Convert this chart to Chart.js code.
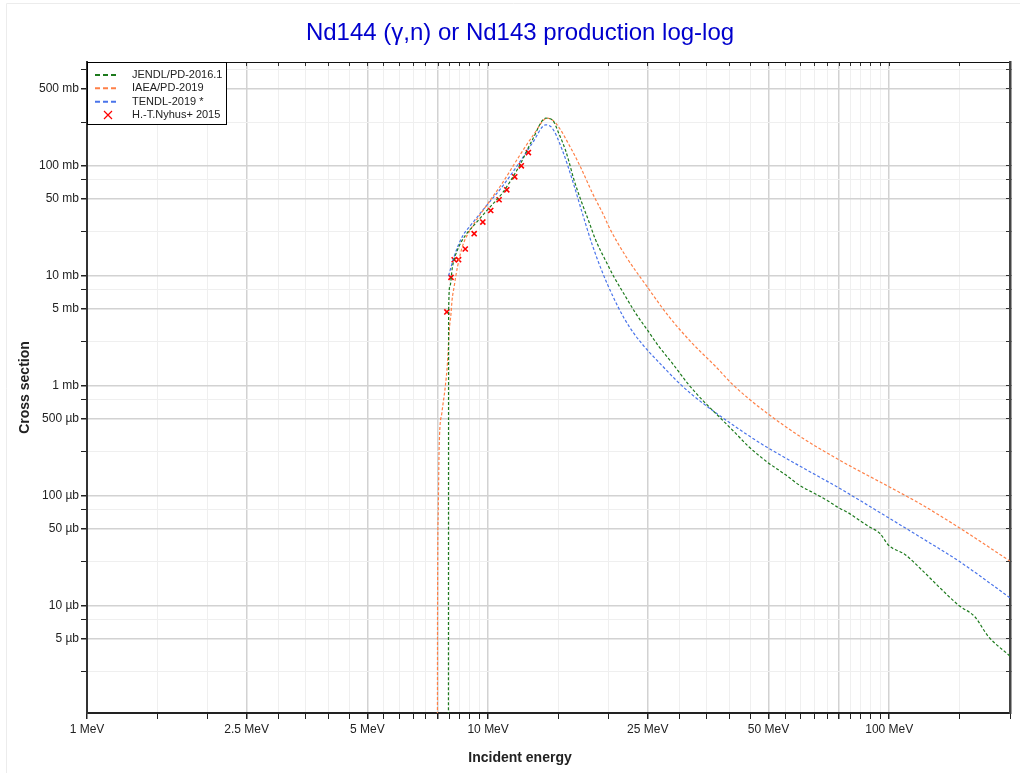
<!DOCTYPE html>
<html>
<head>
<meta charset="utf-8">
<script src="https://cdn.jsdelivr.net/npm/chart.js@4.4.0/dist/chart.umd.min.js"></script>
<style>
html, body { margin: 0; padding: 0; background: #fff; }
canvas { display: block; }
</style>
</head>
<body>
<canvas id="chart" width="1020" height="773"></canvas>
<script>
// energies in MeV, cross sections in mb
const jendlE = [7.96, 7.97, 8.03, 8.15, 8.39, 8.80, 9.32, 9.96, 10.85, 11.94, 12.89, 13.92, 14.45, 15.02, 15.61, 15.91, 16.37, 17.16, 17.84, 18.53, 19.63, 20.58, 22.0, 23.3, 24.91, 26.63, 28.74, 31.62, 34.13, 37.55, 41.32, 44.6, 49.7, 55.04, 59.96, 65.95, 70.53, 74.79, 79.07, 83.73, 88.67, 94.82, 99.6, 109.4, 120.3, 132.4, 149.1, 163.4, 176.3, 200]
const jendlXs = [1e-5, 4.6, 8.0, 12.1, 17.2, 23.6, 30.1, 39.8, 56.5, 98.6, 172, 271, 262, 195.4, 136.9, 108.7, 74.6, 45.1, 31.0, 21.2, 13.7, 9.79, 6.48, 4.58, 3.23, 2.28, 1.61, 1.02, 0.746, 0.526, 0.371, 0.279, 0.201, 0.155, 0.123, 0.102, 0.0888, 0.0773, 0.0696, 0.0605, 0.0526, 0.0451, 0.0353, 0.0291, 0.0212, 0.0150, 0.0100, 0.00789, 0.00526, 0.00346]

const iaeaE = [7.47, 7.48, 7.51, 7.55, 7.67, 7.82, 7.92, 8.0, 8.08, 8.13, 8.23, 8.31, 8.39, 8.63, 9.14, 9.87, 10.85, 11.94, 12.89, 14.05, 14.74, 16.06, 17.03, 18.18, 19.44, 20.0, 22.0, 24.91, 28.2, 32.23, 36.86, 40.52, 44.6, 49.7, 59.96, 74.79, 99.6, 120.3, 149.1, 200]
const iaeaXs = [1e-5, 0.0086, 0.070, 0.279, 0.569, 0.98, 1.62, 3.2, 4.5, 6.0, 8.0, 10.0, 12.1, 18.5, 28.1, 42.7, 69.6, 121.5, 184.7, 271, 244.5, 145.8, 95.9, 56.8, 35.1, 27.9, 15.2, 7.94, 4.27, 2.44, 1.50, 1.04, 0.762, 0.558, 0.344, 0.212, 0.1208, 0.0828, 0.0512, 0.0253]

const tendlE = [7.97, 8.23, 8.63, 9.14, 9.87, 10.85, 11.94, 12.89, 13.92, 14.45, 15.30, 16.21, 17.16, 18.18, 19.24, 20.38, 21.79, 23.30, 24.91, 27.14, 29.57, 32.23, 36.86, 41.32, 44.60, 49.7, 59.96, 74.79, 99.6, 120.3, 149.1, 200]
const tendlXs = [10.0, 15.0, 22.8, 30.1, 42.7, 64.8, 105.8, 160.8, 235.9, 220.1, 139.8, 74.6, 37.4, 19.1, 10.9, 6.72, 4.15, 2.85, 2.12, 1.52, 1.10, 0.828, 0.569, 0.424, 0.351, 0.273, 0.1846, 0.1175, 0.0627, 0.0412, 0.0253, 0.01174]

const nyhusE = [7.89, 8.08, 8.23, 8.44, 8.77, 9.23, 9.70, 10.15, 10.65, 11.13, 11.65, 12.10, 12.60]
const nyhusXs = [4.68, 9.66, 13.97, 14.0, 17.5, 24.1, 30.8, 39.2, 49.1, 60.5, 79.4, 100, 132]

// axis ticks
const xTicks = [1, 1.5, 2, 2.5, 3, 3.5, 4, 4.5, 5, 5.5, 6, 6.5, 7, 7.5, 8, 8.5, 9, 9.5, 10, 15, 20, 25, 30, 35, 40, 45, 50, 55, 60, 65, 70, 75, 80, 85, 90, 95, 100, 150, 200]
const xMajor = [1, 2.5, 5, 7.5, 10, 25, 50, 75, 100]
const xLabelVals = [1, 2.5, 5, 10, 25, 50, 100]
const xLabelTexts = ['1 MeV', '2.5 MeV', '5 MeV', '10 MeV', '25 MeV', '50 MeV', '100 MeV']

const yTicks = [0.0025, 0.005, 0.0075, 0.01, 0.025, 0.05, 0.075, 0.1, 0.25, 0.5, 0.75, 1, 2.5, 5, 7.5, 10, 25, 50, 75, 100, 250, 500, 750]
const yMajor = [0.005, 0.01, 0.05, 0.1, 0.5, 1, 5, 10, 50, 100, 500]
const yLabelVals = [0.005, 0.01, 0.05, 0.1, 0.5, 1, 5, 10, 50, 100, 500]
const yLabelTexts = ['5 µb', '10 µb', '50 µb', '100 µb', '500 µb', '1 mb', '5 mb', '10 mb', '50 mb', '100 mb', '500 mb']

const FONT = "'Liberation Sans', Arial, sans-serif"
const majorGrid = '#d2d2d2'
const minorGrid = '#efefef'

const pts = (xs, ys) => xs.map((x, i) => ({ x: x, y: ys[i] }))

function curve(label, color, xs, ys) {
    return {
        label: label,
        data: pts(xs, ys),
        showLine: true,
        borderColor: color,
        backgroundColor: color,
        borderWidth: 1.2,
        borderDash: [3, 2],
        pointRadius: 0,
        pointHoverRadius: 0,
        cubicInterpolationMode: 'monotone'
    }
}

const xBase = {
    type: 'logarithmic',
    min: 1,
    max: 200,
    afterBuildTicks: (s) => { s.ticks = xTicks.map(v => ({ value: v })) }
}
const yBase = {
    type: 'logarithmic',
    min: 0.00105,
    max: 880,
    afterBuildTicks: (s) => { s.ticks = yTicks.map(v => ({ value: v })) }
}

// legend drawn inside the plot, top-left, with a frame
const legendBox = {
    id: 'legendBox',
    beforeDraw(chart) {
        const ctx = chart.ctx
        ctx.save()
        ctx.strokeStyle = '#ececec'
        ctx.lineWidth = 1
        ctx.beginPath()
        ctx.moveTo(6.5, 1100); ctx.lineTo(6.5, 3.5); ctx.lineTo(1100, 3.5)
        ctx.stroke()
        ctx.restore()
    },
    afterDraw(chart) {
        const { ctx, chartArea } = chart
        const x0 = chartArea.left, y0 = chartArea.top
        ctx.save()
        ctx.fillStyle = '#fff'
        ctx.fillRect(x0, y0, 139, 62)
        ctx.strokeStyle = '#000'
        ctx.lineWidth = 1
        ctx.strokeRect(x0 + 0.5, y0 + 0.5, 139, 62)
        ctx.font = '11px ' + FONT
        ctx.textBaseline = 'middle'
        chart.data.datasets.forEach((ds, i) => {
            const y = y0 + 13 + i * 13.33
            ctx.strokeStyle = ds.borderColor
            if (ds.showLine) {
                ctx.lineWidth = 2
                ctx.setLineDash([5, 3])
                ctx.beginPath()
                ctx.moveTo(x0 + 8, y); ctx.lineTo(x0 + 31, y)
                ctx.stroke()
                ctx.setLineDash([])
            } else {
                ctx.lineWidth = 1.2
                ctx.beginPath()
                ctx.moveTo(x0 + 17, y - 4); ctx.lineTo(x0 + 25, y + 4)
                ctx.moveTo(x0 + 25, y - 4); ctx.lineTo(x0 + 17, y + 4)
                ctx.stroke()
            }
            ctx.fillStyle = '#222'
            ctx.fillText(ds.label, x0 + 45, y)
        })
        ctx.restore()
    }
}

const canvas = document.getElementById('chart')
const chart = new Chart(canvas, {
    type: 'scatter',
    data: {
        datasets: [
            curve('JENDL/PD-2016.1', '#1d7a1d', jendlE, jendlXs),
            curve('IAEA/PD-2019', '#ff8047', iaeaE, iaeaXs),
            curve('TENDL-2019 *', '#4a74ea', tendlE, tendlXs),
            {
                label: 'H.-T.Nyhus+ 2015',
                data: pts(nyhusE, nyhusXs),
                showLine: false,
                pointStyle: 'crossRot',
                pointRadius: 3.6,
                pointHoverRadius: 3.6,
                borderColor: '#ff0000',
                backgroundColor: '#ff0000',
                borderWidth: 1.6
            }
        ]
    },
    options: {
        responsive: false,
        animation: false,
        events: [],
        layout: { padding: { left: 20, right: 0, top: 0, bottom: 0 } },
        plugins: {
            legend: { display: false },
            tooltip: { enabled: false },
            title: {
                display: true,
                text: 'Nd144 (γ,n) or Nd143 production log-log',
                color: '#0000cd',
                font: { family: FONT, size: 24, weight: 'normal' },
                padding: { top: 19, bottom: 4.2 }
            },
            subtitle: {
                display: true,
                position: 'bottom',
                text: 'Incident energy',
                color: '#222',
                font: { family: FONT, size: 14, weight: 'bold' },
                padding: { top: 0, bottom: 6.2 }
            }
        },
        scales: {
            x: {
                ...xBase,
                position: 'bottom',
                afterFit: (s) => { s.height = 37 },
                border: { color: '#222', width: 2 },
                grid: {
                    color: (c) => c.tick && xMajor.includes(c.tick.value) ? majorGrid : minorGrid,
                    lineWidth: (c) => c.tick && xMajor.includes(c.tick.value) ? 1.5 : 1,
                    tickColor: '#222',
                    tickLength: 6
                },
                ticks: {
                    autoSkip: false,
                    maxRotation: 0,
                    padding: 3,
                    color: '#222',
                    font: { family: FONT, size: 12 },
                    callback: (v) => {
                        const i = xLabelVals.indexOf(v)
                        return i < 0 ? '' : xLabelTexts[i]
                    }
                }
            },
            x2: {
                ...xBase,
                position: 'top',
                afterFit: (s) => { s.height = 10 },
                border: { color: '#111', width: 1 },
                grid: { drawOnChartArea: false, tickColor: '#333', tickLength: -4 },
                ticks: { display: false, autoSkip: false }
            },
            y: {
                ...yBase,
                position: 'left',
                afterFit: (s) => { s.width = 67 },
                border: { color: '#333', width: 2 },
                grid: {
                    color: (c) => c.tick && yMajor.includes(c.tick.value) ? majorGrid : minorGrid,
                    lineWidth: (c) => c.tick && yMajor.includes(c.tick.value) ? 1.5 : 1,
                    tickColor: '#222',
                    tickLength: 6
                },
                title: {
                    display: true,
                    text: 'Cross section',
                    color: '#222',
                    font: { family: FONT, size: 14, weight: 'bold' },
                    padding: { top: -3.4, bottom: 0 }
                },
                ticks: {
                    autoSkip: false,
                    padding: 2,
                    color: '#222',
                    font: { family: FONT, size: 12 },
                    callback: (v) => {
                        const i = yLabelVals.indexOf(v)
                        return i < 0 ? '' : yLabelTexts[i]
                    }
                }
            },
            y2: {
                ...yBase,
                position: 'right',
                afterFit: (s) => { s.width = 10 },
                border: { color: '#444', width: 2.5 },
                grid: { drawOnChartArea: false, tickColor: '#333', tickLength: -4 },
                ticks: { display: false, autoSkip: false }
            }
        }
    },
    plugins: [legendBox]
})
</script>
</body>
</html>
